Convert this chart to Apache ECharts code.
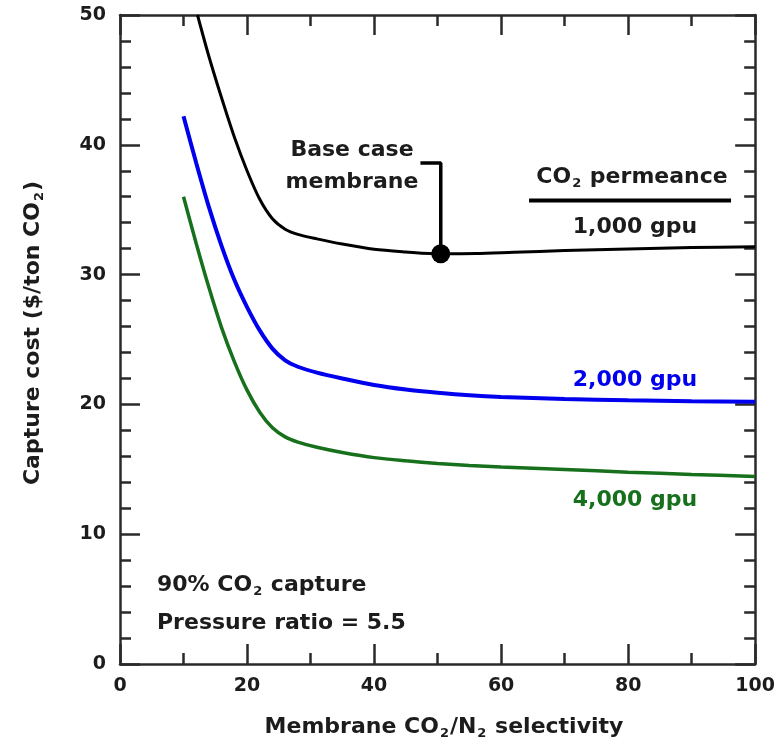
<!DOCTYPE html>
<html>
<head>
<meta charset="utf-8">
<script src="https://cdn.jsdelivr.net/npm/echarts@6/dist/echarts.min.js"></script>
<style>
html,body{margin:0;padding:0;background:#fff;}
#chart{width:778px;height:741px;}
</style>
</head>
<body>
<div id="chart"></div>
<script>
// ---- data (selectivity, capture cost $/ton CO2) ----
const gpu1000 = [[12.2,50],[14,46.8],[16,43.6],[18,40.6],[20,38.0],[22,35.8],[24,34.3],[26,33.5],[28,33.1],[31,32.75],[35,32.35],[40,31.95],[45,31.75],[50.5,31.6],[56,31.62],[62,31.72],[70,31.85],[80,31.98],[90,32.08],[100,32.15]];
const gpu2000 = [[10,42.2],[12,38.6],[14,35.2],[16,32.2],[18,29.6],[20,27.5],[22,25.7],[24,24.3],[26,23.4],[28,22.9],[31,22.45],[35,22.0],[40,21.5],[45,21.15],[50,20.9],[55,20.7],[60,20.57],[70,20.42],[80,20.32],[90,20.25],[100,20.2]];
const gpu4000 = [[10,36.0],[12,32.4],[14,29.0],[16,25.9],[18,23.3],[20,21.1],[22,19.4],[24,18.2],[26,17.5],[28,17.1],[31,16.7],[35,16.3],[40,15.9],[45,15.65],[50,15.45],[55,15.3],[60,15.18],[70,14.98],[80,14.78],[90,14.6],[100,14.45]];
const baseCase = [[50.5,31.6]];
const baseCaseLeader = [[47.3,38.6],[50.5,38.6],[50.5,31.6]];
const permeanceRule = [[64.4,35.7],[96.2,35.7]];
const xTicks = [0,20,40,60,80,100];
const yTicks = [0,10,20,30,40,50];

const FONT = 'DejaVu Sans';
const AX = '#2a2a2a';
const TXT = '#1c1c1c';
const BLUE = '#0000ee';
const GREEN = '#17701c';

function rich(fill){
  return {
    a:{fontSize:22,fontWeight:'bold',fontFamily:FONT,fill:fill,color:fill,verticalAlign:'middle'},
    s:{fontSize:13,fontWeight:'bold',fontFamily:FONT,fill:fill,color:fill,verticalAlign:'bottom',padding:[14,1,0,1]}
  };
}
function txt(x,y,text,fill,align,rot){
  return {type:'text',x:x,y:y,rotation:rot||0,z:100,
    style:{text:text,rich:rich(fill),fill:fill,font:'bold 22px "'+FONT+'"',align:align||'center',verticalAlign:'middle'}};
}

const axisCommon = (showLabel) => ({
  axisLine:{show:true,onZero:false,lineStyle:{color:AX,width:2.5}},
  axisTick:{show:true,inside:true,length:20,lineStyle:{color:AX,width:2.5}},
  splitLine:{show:false},
  axisLabel:{show:showLabel,fontFamily:FONT,fontWeight:'bold',fontSize:19,color:TXT}
});

const chart = echarts.init(document.getElementById('chart'));
chart.setOption({
  animation:false,
  backgroundColor:'#fff',
  grid:{left:120,right:21,top:15,bottom:77,containLabel:false},
  xAxis:[
    Object.assign({type:'value',min:0,max:100,interval:20,position:'bottom',
      minorTick:{show:true,splitNumber:2,length:11,lineStyle:{color:AX,width:2.5}}},axisCommon(true),
      {axisLabel:{show:true,fontFamily:FONT,fontWeight:'bold',fontSize:19,color:TXT,margin:13,
        formatter:v=>xTicks.includes(v)?String(v):''}}),
    Object.assign({type:'value',min:0,max:100,interval:20,position:'top',
      minorTick:{show:true,splitNumber:2,length:11,lineStyle:{color:AX,width:2.5}}},axisCommon(false))
  ],
  yAxis:[
    Object.assign({type:'value',min:0,max:50,interval:10,position:'left',
      minorTick:{show:true,splitNumber:5,length:11,lineStyle:{color:AX,width:2.5}}},axisCommon(true),
      {axisLabel:{show:true,fontFamily:FONT,fontWeight:'bold',fontSize:19,color:TXT,margin:14,
        formatter:v=>yTicks.includes(v)?String(v):''}}),
    Object.assign({type:'value',min:0,max:50,interval:10,position:'right',
      minorTick:{show:true,splitNumber:5,length:11,lineStyle:{color:AX,width:2.5}}},axisCommon(false))
  ],
  series:[
    {type:'line',name:'1,000 gpu',data:gpu1000,smooth:0.3,symbol:'none',clip:true,
      lineStyle:{color:'#000',width:3}},
    {type:'line',name:'2,000 gpu',data:gpu2000,smooth:0.3,symbol:'none',clip:true,
      lineStyle:{color:BLUE,width:4}},
    {type:'line',name:'4,000 gpu',data:gpu4000,smooth:0.3,symbol:'none',clip:true,
      lineStyle:{color:GREEN,width:3.5}},
    {type:'line',data:baseCaseLeader,symbol:'none',lineStyle:{color:'#000',width:3.5},z:5},
    {type:'line',data:permeanceRule,symbol:'none',lineStyle:{color:'#000',width:4},z:5},
    {type:'scatter',data:baseCase,symbol:'circle',symbolSize:19,itemStyle:{color:'#000',opacity:1},z:10}
  ],
  graphic:[
    txt(352,150,'{a|Base case}',TXT),
    txt(352,182,'{a|membrane}',TXT),
    txt(632,177,'{a|CO}{s|2}{a| permeance}',TXT),
    txt(635,227,'{a|1,000 gpu}',TXT),
    txt(635,380,'{a|2,000 gpu}',BLUE),
    txt(635,500,'{a|4,000 gpu}',GREEN),
    txt(157,585,'{a|90% CO}{s|2}{a| capture}',TXT,'left'),
    txt(157,623,'{a|Pressure ratio = 5.5}',TXT,'left'),
    txt(444,727,'{a|Membrane CO}{s|2}{a|/N}{s|2}{a| selectivity}',TXT),
    txt(33,333,'{a|Capture cost ($/ton CO}{s|2}{a|)}',TXT,'center',Math.PI/2)
  ]
});
</script>
</body>
</html>
